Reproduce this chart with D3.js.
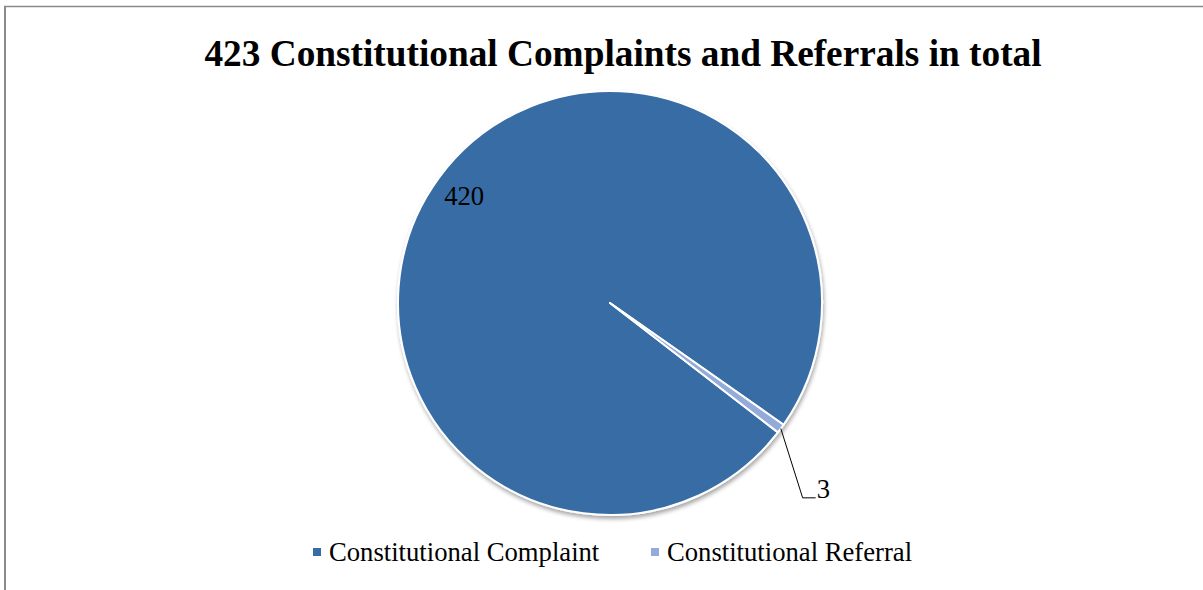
<!DOCTYPE html>
<html>
<head>
<meta charset="utf-8">
<script src="https://cdn.jsdelivr.net/npm/d3@7"></script>
<style>
  html, body { margin: 0; padding: 0; background: #ffffff; }
  svg { display: block; }
  text { font-family: "Liberation Serif", "Times New Roman", serif; fill: #000; }
</style>
</head>
<body>
<svg id="chart" width="1203" height="590"></svg>
<script>
// Case types and their counts
const categories = ["Constitutional Complaint", "Constitutional Referral"];
const counts = [420, 3];
const colors = ["#376ca4", "#93abd8"];
const titleText = "423 Constitutional Complaints and Referrals in total";

const width = 1203, height = 590;
const cx = 610, cy = 303, radius = 212;
const firstSliceAngle = 127.6 * Math.PI / 180;

const svg = d3.select("#chart");

// Frame lines of the chart area
svg.append("line").attr("x1", 5).attr("x2", 5).attr("y1", 6).attr("y2", height)
  .attr("stroke", "#8a8a8a").attr("stroke-width", 2);
svg.append("line").attr("x1", 4).attr("x2", width).attr("y1", 6.5).attr("y2", 6.5)
  .attr("stroke", "#8a8a8a").attr("stroke-width", 1.5);

// Title
svg.append("text")
  .attr("x", 623).attr("y", 66)
  .attr("text-anchor", "middle")
  .style("font-size", "37.3px").style("font-weight", "bold")
  .text(titleText);

// Soft shadow under the pie
const defs = svg.append("defs");
const f = defs.append("filter").attr("id", "pieShadow")
  .attr("x", "-10%").attr("y", "-10%").attr("width", "120%").attr("height", "120%");
f.append("feGaussianBlur").attr("in", "SourceAlpha").attr("stdDeviation", 2).attr("result", "b");
f.append("feOffset").attr("in", "b").attr("dx", 1).attr("dy", 3).attr("result", "o");
f.append("feComponentTransfer").attr("in", "o").attr("result", "s")
  .append("feFuncA").attr("type", "linear").attr("slope", 0.35);
const fm = f.append("feMerge");
fm.append("feMergeNode").attr("in", "s");
fm.append("feMergeNode").attr("in", "SourceGraphic");

const pie = d3.pie().sort(null)
  .startAngle(firstSliceAngle)
  .endAngle(firstSliceAngle + 2 * Math.PI);
const arcs = pie(counts);

const arc = d3.arc().innerRadius(0).outerRadius(radius);
const g = svg.append("g").attr("transform", `translate(${cx},${cy})`);

g.append("g").attr("filter", "url(#pieShadow)")
  .selectAll("path").data(arcs).join("path")
  .attr("d", arc)
  .attr("fill", (d, i) => colors[i])
  .attr("stroke", "#ffffff")
  .attr("stroke-width", 2)
  .attr("stroke-linejoin", "round");

// Label inside the large slice
const labelArc = d3.arc().innerRadius(181).outerRadius(181);
const big = arcs[0];
const bp = labelArc.centroid(big);
g.append("text")
  .attr("x", bp[0]).attr("y", bp[1])
  .attr("text-anchor", "middle").attr("dominant-baseline", "central")
  .style("font-size", "26.67px")
  .text(counts[0]);

// Small slice label with a leader line
const small = arcs[1];
const mid = (small.startAngle + small.endAngle) / 2;
const p0 = d3.pointRadial(mid, radius);
const p1 = d3.pointRadial(mid + 9 * Math.PI / 180, 274);
const p2 = [p1[0] + 13, p1[1]];
g.append("polyline")
  .attr("points", [p0, p1, p2].map(p => p.join(",")).join(" "))
  .attr("fill", "none").attr("stroke", "#000").attr("stroke-width", 1);
g.append("text")
  .attr("x", p2[0] + 1).attr("y", p2[1])
  .style("font-size", "26.67px")
  .text(counts[1]);

// Legend
const legendX = [313, 651];
const legendY = 552;
const lg = svg.append("g");
categories.forEach((c, i) => {
  lg.append("rect")
    .attr("x", legendX[i]).attr("y", legendY - 4)
    .attr("width", 8).attr("height", 8)
    .attr("fill", colors[i]);
  lg.append("text")
    .attr("x", legendX[i] + 16).attr("y", legendY + 9)
    .style("font-size", "26.67px")
    .text(c);
});
</script>
</body>
</html>
